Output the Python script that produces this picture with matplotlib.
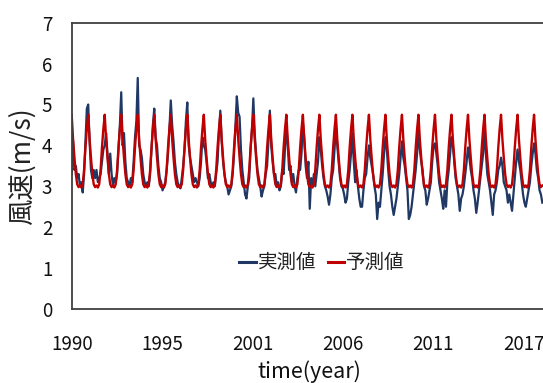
import matplotlib
matplotlib.use("Agg")
import matplotlib.pyplot as plt
from matplotlib.lines import Line2D
import numpy as np

plt.rcParams['font.family'] = ['Noto Sans CJK JP', 'DejaVu Sans']

# x tick labels (category axis, monthly data starting Jan 1990)
tick_labels = ['1990', '1995', '2001', '2006', '2011', '2017']

# observed monthly wind speed (m/s), one row per year (Jan..Dec)
observed_rows = [
    [3.3, 4.1, 3.4, 3.5, 3.2, 3.3, 3.0, 3.1, 2.85, 3.3, 4.1, 4.9],   # 1990
    [5.0, 4.1, 3.4, 3.2, 3.4, 3.2, 3.4, 3.1, 3.2, 3.3, 3.6, 3.9],    # 1991
    [4.0, 4.3, 3.8, 3.3, 3.8, 3.3, 3.0, 3.2, 3.1, 3.3, 3.9, 4.5],    # 1992
    [5.3, 4.0, 4.3, 3.6, 3.2, 3.1, 3.0, 3.2, 3.1, 3.6, 4.2, 4.6],    # 1993
    [5.65, 4.0, 3.9, 3.7, 3.3, 3.1, 3.0, 3.1, 3.0, 3.3, 3.9, 4.5],   # 1994
    [4.9, 4.2, 4.0, 3.5, 3.2, 3.1, 2.9, 3.0, 3.1, 3.4, 3.8, 4.4],    # 1995
    [5.1, 4.5, 4.1, 3.6, 3.3, 3.1, 3.0, 2.95, 3.2, 3.5, 3.9, 4.6],   # 1996
    [5.05, 4.0, 3.7, 3.5, 3.3, 3.1, 3.2, 3.1, 3.0, 3.2, 3.6, 4.2],   # 1997
    [4.0, 3.9, 3.6, 3.2, 3.3, 3.1, 3.0, 3.1, 3.0, 3.3, 3.6, 4.3],    # 1998
    [4.85, 4.1, 3.6, 3.3, 3.1, 3.0, 2.8, 2.9, 3.0, 3.3, 3.8, 4.5],   # 1999
    [5.2, 4.8, 4.7, 3.9, 3.4, 3.1, 2.8, 2.7, 3.0, 3.2, 3.9, 4.4],    # 2000
    [5.15, 4.3, 3.8, 3.4, 3.2, 3.0, 2.75, 2.9, 3.0, 3.3, 3.5, 4.1],  # 2001
    [4.85, 4.0, 3.6, 3.3, 3.3, 3.0, 3.1, 2.9, 3.0, 3.4, 3.3, 3.9],   # 2002
    [4.5, 4.0, 3.4, 3.5, 3.1, 3.3, 3.0, 2.85, 3.2, 3.4, 3.4, 3.8],   # 2003
    [4.55, 4.2, 3.5, 3.2, 3.6, 2.45, 3.2, 3.0, 3.3, 3.0, 3.3, 3.6],  # 2004
    [4.2, 3.9, 3.5, 3.2, 3.0, 2.9, 2.75, 2.55, 2.8, 3.2, 3.4, 3.9],  # 2005
    [4.45, 4.0, 3.6, 3.2, 3.0, 2.95, 2.8, 2.6, 2.7, 3.1, 3.4, 3.8],  # 2006
    [4.3, 3.6, 3.1, 3.4, 3.0, 2.7, 2.5, 2.5, 2.9, 3.2, 3.3, 3.7],    # 2007
    [4.0, 3.7, 3.5, 3.3, 3.0, 2.8, 2.2, 2.6, 2.5, 2.9, 3.3, 3.8],    # 2008
    [4.2, 3.9, 3.4, 3.0, 2.8, 2.5, 2.3, 2.5, 2.7, 3.0, 3.3, 3.7],    # 2009
    [4.1, 3.7, 3.5, 3.2, 2.9, 2.2, 2.3, 2.5, 2.8, 3.1, 3.4, 3.8],    # 2010
    [4.35, 3.9, 3.6, 3.4, 3.0, 2.9, 2.55, 2.7, 2.9, 3.1, 3.6, 4.0],  # 2011
    [4.05, 3.8, 3.5, 3.1, 2.9, 2.7, 2.45, 2.9, 2.5, 3.1, 3.4, 3.8],  # 2012
    [4.2, 4.0, 3.6, 3.2, 3.0, 2.8, 2.4, 2.7, 2.8, 3.0, 3.3, 3.6],    # 2013
    [3.95, 3.7, 3.4, 3.2, 2.9, 2.7, 2.35, 2.6, 2.9, 3.2, 3.5, 3.8],  # 2014
    [4.35, 3.8, 3.3, 3.1, 2.9, 2.6, 2.3, 2.8, 2.9, 3.1, 3.4, 3.5],   # 2015
    [3.7, 3.5, 3.1, 3.0, 2.9, 2.6, 2.8, 2.6, 2.4, 2.8, 3.2, 3.6],    # 2016
    [3.9, 3.6, 3.4, 3.1, 2.8, 2.6, 2.5, 2.7, 2.9, 3.1, 3.5, 3.8],    # 2017
    [4.05, 3.8, 3.4, 3.2, 2.9, 2.8, 2.6],                             # 2018
]

# predicted monthly wind speed (m/s), one row per year (Jan..Dec)
predicted_rows = [
    [4.75, 4.15, 3.7, 3.3, 3.05, 2.98, 3.02, 2.97, 3.05, 3.4, 3.95, 4.4],
    [4.75, 4.15, 3.7, 3.3, 3.05, 2.98, 3.02, 2.97, 3.05, 3.4, 3.95, 4.4],
    [4.75, 4.15, 3.7, 3.3, 3.05, 2.98, 3.02, 2.97, 3.05, 3.4, 3.95, 4.4],
    [4.75, 4.15, 3.7, 3.3, 3.05, 2.98, 3.02, 2.97, 3.05, 3.4, 3.95, 4.4],
    [4.75, 4.15, 3.7, 3.3, 3.05, 2.98, 3.02, 2.97, 3.05, 3.4, 3.95, 4.4],
    [4.75, 4.15, 3.7, 3.3, 3.05, 2.98, 3.02, 2.97, 3.05, 3.4, 3.95, 4.4],
    [4.75, 4.15, 3.7, 3.3, 3.05, 2.98, 3.02, 2.97, 3.05, 3.4, 3.95, 4.4],
    [4.75, 4.15, 3.7, 3.3, 3.05, 2.98, 3.02, 2.97, 3.05, 3.4, 3.95, 4.4],
    [4.75, 4.15, 3.7, 3.3, 3.05, 2.98, 3.02, 2.97, 3.05, 3.4, 3.95, 4.4],
    [4.75, 4.15, 3.7, 3.3, 3.05, 2.98, 3.02, 2.97, 3.05, 3.4, 3.95, 4.4],
    [4.75, 4.15, 3.7, 3.3, 3.05, 2.98, 3.02, 2.97, 3.05, 3.4, 3.95, 4.4],
    [4.75, 4.15, 3.7, 3.3, 3.05, 2.98, 3.02, 2.97, 3.05, 3.4, 3.95, 4.4],
    [4.75, 4.15, 3.7, 3.3, 3.05, 2.98, 3.02, 2.97, 3.05, 3.4, 3.95, 4.4],
    [4.75, 4.15, 3.7, 3.3, 3.05, 2.98, 3.02, 2.97, 3.05, 3.4, 3.95, 4.4],
    [4.75, 4.15, 3.7, 3.3, 3.05, 2.98, 3.02, 2.97, 3.05, 3.4, 3.95, 4.4],
    [4.75, 4.15, 3.7, 3.3, 3.05, 2.98, 3.02, 2.97, 3.05, 3.4, 3.95, 4.4],
    [4.75, 4.15, 3.7, 3.3, 3.05, 2.98, 3.02, 2.97, 3.05, 3.4, 3.95, 4.4],
    [4.75, 4.15, 3.7, 3.3, 3.05, 2.98, 3.02, 2.97, 3.05, 3.4, 3.95, 4.4],
    [4.75, 4.15, 3.7, 3.3, 3.05, 2.98, 3.02, 2.97, 3.05, 3.4, 3.95, 4.4],
    [4.75, 4.15, 3.7, 3.3, 3.05, 2.98, 3.02, 2.97, 3.05, 3.4, 3.95, 4.4],
    [4.75, 4.15, 3.7, 3.3, 3.05, 2.98, 3.02, 2.97, 3.05, 3.4, 3.95, 4.4],
    [4.75, 4.15, 3.7, 3.3, 3.05, 2.98, 3.02, 2.97, 3.05, 3.4, 3.95, 4.4],
    [4.75, 4.15, 3.7, 3.3, 3.05, 2.98, 3.02, 2.97, 3.05, 3.4, 3.95, 4.4],
    [4.75, 4.15, 3.7, 3.3, 3.05, 2.98, 3.02, 2.97, 3.05, 3.4, 3.95, 4.4],
    [4.75, 4.15, 3.7, 3.3, 3.05, 2.98, 3.02, 2.97, 3.05, 3.4, 3.95, 4.4],
    [4.75, 4.15, 3.7, 3.3, 3.05, 2.98, 3.02, 2.97, 3.05, 3.4, 3.95, 4.4],
    [4.75, 4.15, 3.7, 3.3, 3.05, 2.98, 3.02, 2.97, 3.05, 3.4, 3.95, 4.4],
    [4.75, 4.15, 3.7, 3.3, 3.05, 2.98, 3.02, 2.97, 3.05, 3.4, 3.95, 4.4],
    [4.75, 4.15, 3.7, 3.3, 3.05, 2.98, 3.02],
]

series_names = ['実測値', '予測値']

observed = np.concatenate([np.array(r, dtype=float) for r in observed_rows])
predicted = np.concatenate([np.array(r, dtype=float) for r in predicted_rows])
months = np.arange(len(observed))

W, H = 543, 383
fig = plt.figure(figsize=(W / 100, H / 100), dpi=100)
left_px, right_px, top_px, bottom_px = 71.7, 543.0, 22.7, 309.0
ax = fig.add_axes([left_px / W, 1 - bottom_px / H,
                   (right_px - left_px) / W, (bottom_px - top_px) / H])

blue = '#203864'
red = '#C00000'
ax.plot(months, observed, color=blue, lw=1.6, solid_joinstyle='round')
ax.plot(months, predicted, color=red, lw=1.7, solid_joinstyle='round')

ax.set_ylim(0, 7)
ax.set_yticks(range(0, 8))
ax.set_xlim(0, 342.5)
tick_step = 65.7
ax.set_xticks([i * tick_step for i in range(len(tick_labels))])
ax.set_xticklabels(tick_labels)

ax.tick_params(axis='both', length=0, labelsize=13.5, colors='#111111')
ax.tick_params(axis='y', pad=14)
ax.tick_params(axis='x', pad=18)

for side in ['left', 'top', 'bottom']:
    ax.spines[side].set_color('#404040')
    ax.spines[side].set_linewidth(1.3)
ax.spines['right'].set_visible(False)

ax.set_ylabel('風速(m/s)', fontsize=19, labelpad=4, color='#222222')
ax.set_xlabel('time(year)', fontsize=15.5, color='#111111')
ax.xaxis.set_label_coords(0.505, -0.178)

handles = [Line2D([0], [0], color=blue, lw=2.2), Line2D([0], [0], color=red, lw=2.2)]
ax.legend(handles, series_names, loc='center', bbox_to_anchor=(0.531, 0.161),
          ncol=2, frameon=False, fontsize=14, handlelength=0.85,
          handletextpad=0.1, columnspacing=0.6, labelcolor='#222222')

fig.savefig('out.png', dpi=100)
